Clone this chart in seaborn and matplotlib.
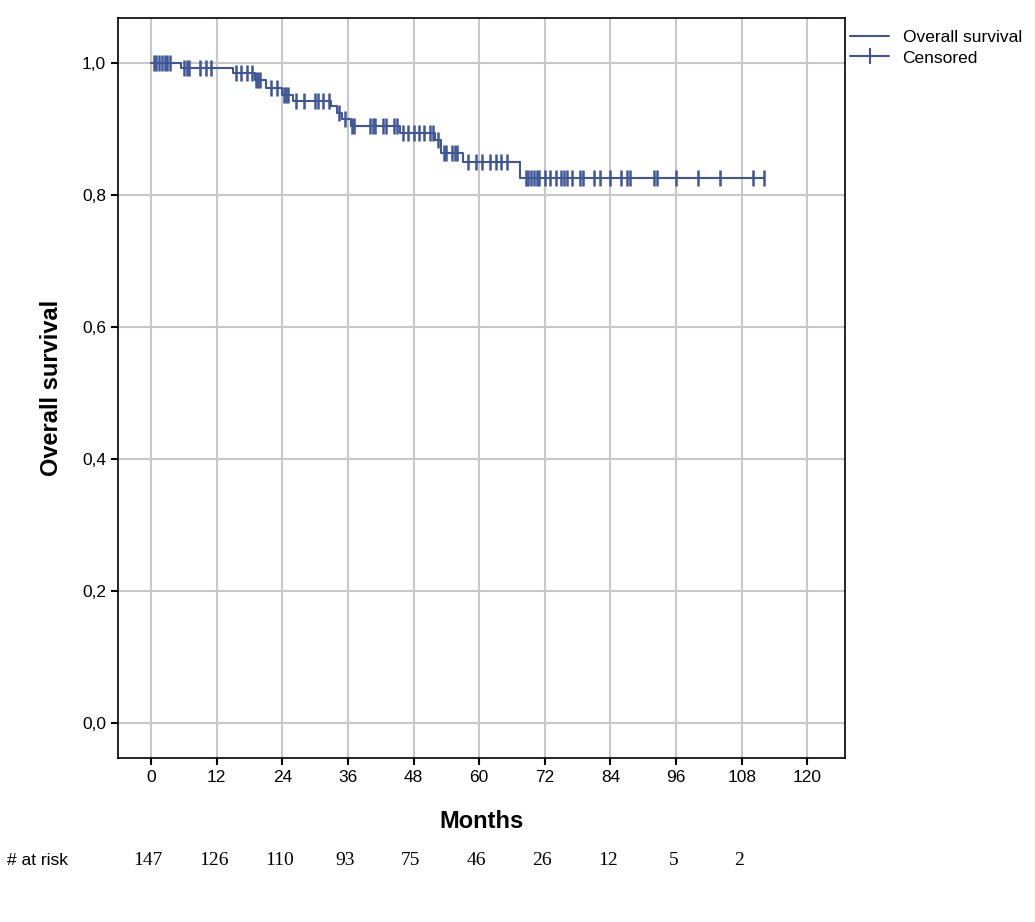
import numpy as np
import pandas as pd
import matplotlib
matplotlib.use("Agg")
import matplotlib.pyplot as plt
import seaborn as sns
from matplotlib.lines import Line2D

# Kaplan-Meier step points (month, survival)
step_month = [0, 5.5, 15, 19, 21, 24, 26, 33, 34, 35, 36.5, 45.5, 52, 53, 57, 67.5, 112]
step_surv = [1.0, 0.993, 0.986, 0.975, 0.962, 0.952, 0.943, 0.935, 0.925, 0.915, 0.905,
             0.895, 0.883, 0.864, 0.850, 0.826, 0.826]

# censored observations (months)
censor_month = [0.5, 1, 1.5, 2, 2.5, 3, 3.5, 6, 6.5, 7, 9, 10, 11, 15.5, 16.5, 17.5, 18.5,
                19.2, 19.6, 20, 22, 23, 24.3, 24.7, 25, 26.5, 28, 30, 30.5, 31.5, 32.5, 34.3,
                35.5, 36.8, 37.2, 40, 40.5, 41, 42.5, 43, 44.5, 45, 46, 47, 48, 49, 50, 51,
                51.5, 52.5, 53.5, 54, 55, 55.5, 56, 58, 59.5, 60.5, 62, 63, 64, 65, 68.5, 69,
                69.5, 70, 70.5, 71, 72, 73, 74, 75, 75.5, 76, 77, 78.5, 79, 81, 82, 84, 86,
                87, 87.5, 92, 92.5, 96, 100, 104, 110, 112]

risk_month = [0, 12, 24, 36, 48, 60, 72, 84, 96, 108]
at_risk = [147, 126, 110, 93, 75, 46, 26, 12, 5, 2]

km = pd.DataFrame({"month": step_month, "surv": step_surv})
idx = np.searchsorted(step_month, censor_month, side="right") - 1
cens = pd.DataFrame({"month": censor_month, "surv": np.array(step_surv)[idx]})

sns.set_style("white")
plt.rcParams["font.family"] = ["Arial", "Liberation Sans", "DejaVu Sans"]
plt.rcParams["text.color"] = "black"
plt.rcParams["axes.labelcolor"] = "black"
plt.rcParams["xtick.color"] = "black"
plt.rcParams["ytick.color"] = "black"
color = "#3f5799"

fig = plt.figure(figsize=(10.35, 9.22), dpi=100)
ax = fig.add_axes([0.114, 0.178, 0.702, 0.802])
sns.lineplot(data=km, x="month", y="surv", drawstyle="steps-post", color=color, lw=1.5, ax=ax)
sns.scatterplot(data=cens, x="month", y="surv", marker="|", s=140, linewidth=1.8,
                color=color, ax=ax)

ax.set_xlim(-6.03, 126.8)
ax.set_ylim(-0.053, 1.068)
ax.set_xticks(range(0, 121, 12))
ax.set_yticks([0, 0.2, 0.4, 0.6, 0.8, 1.0])
ax.set_yticklabels([f"{v:.1f}".replace(".", ",") for v in [0, 0.2, 0.4, 0.6, 0.8, 1.0]])
ax.grid(True, color="#c8c8c8", lw=1.5)
ax.set_axisbelow(True)
for s in ax.spines.values():
    s.set_color("black")
    s.set_linewidth(1.2)
ax.tick_params(axis="both", direction="out", length=5, width=1.5, labelsize=12.5, left=True, bottom=True)
ax.set_xlabel("Months", fontsize=17, fontweight="bold", labelpad=18)
ax.set_ylabel("Overall survival", fontsize=17, fontweight="bold", labelpad=14)

handles = [Line2D([0], [0], color=color, lw=1.5, drawstyle="steps-post"),
           Line2D([0], [0], color=color, lw=1.5, marker="|", markersize=12, markeredgewidth=1.5)]
fig.legend(handles, ["Overall survival", "Censored"], loc="upper left",
           bbox_to_anchor=(0.815, 0.975), frameon=False, fontsize=12.5, handlelength=2.2,
           borderaxespad=0, labelspacing=0.3)

fig.text(0.007, 0.067, "# at risk", fontsize=12.5, va="center")
for m, n in zip(risk_month, at_risk):
    xf = (148 + m * 5.475) / 1035
    fig.text(xf, 0.067, str(n), fontsize=14, va="center", ha="center",
             family=["Liberation Serif", "DejaVu Serif"])

fig.savefig("out.png", dpi=100)
